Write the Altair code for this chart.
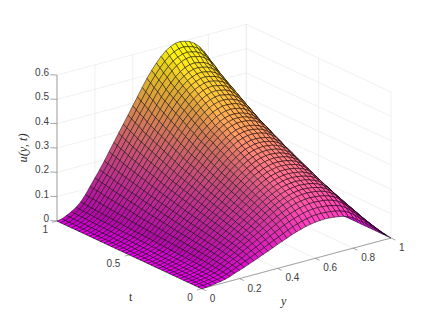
import altair as alt
import numpy as np

# u(y,t) in thousandths: one row per t (0 -> 1), one column per y (0 -> 1)
U = [
[0,1,3,6,9,13,19,27,34,41,49,57,65,73,81,89,98,106,114,122,129,135,141,145,148,150,151,150,148,145,141,134,126,111,98,83,68,51,35,18,0],
[0,1,3,6,10,14,21,29,38,46,54,63,72,81,90,99,108,117,126,135,143,150,156,161,165,167,167,166,164,161,156,149,139,124,108,92,75,57,39,19,0],
[0,1,4,7,11,16,23,32,41,50,59,70,79,89,99,109,119,129,139,149,157,165,171,177,181,183,184,182,181,176,172,164,152,136,119,101,82,63,43,21,0],
[0,1,4,7,12,17,25,35,45,54,64,75,86,97,107,118,129,139,150,161,170,178,185,191,195,198,199,197,196,192,186,177,165,147,129,109,89,68,46,23,0],
[0,1,4,8,12,18,27,37,47,57,68,80,91,103,114,125,137,148,159,170,180,189,197,203,207,210,211,209,207,203,197,188,176,156,137,116,95,72,49,25,0],
[0,1,4,8,13,19,28,39,50,61,72,84,96,108,120,132,144,156,168,180,191,200,208,215,219,222,223,221,219,215,208,198,185,165,144,122,100,76,52,26,0],
[0,1,5,8,13,20,30,41,52,63,75,88,100,113,125,137,150,162,175,187,198,208,216,223,228,231,232,230,228,223,217,207,193,171,150,127,104,79,54,27,0],
[0,1,5,9,14,21,31,42,54,66,78,91,104,117,130,143,156,169,182,195,206,216,225,232,237,240,241,239,237,232,225,215,200,178,156,132,108,82,56,28,0],
[0,1,5,9,15,22,32,44,56,68,81,95,108,122,135,148,162,175,189,202,214,224,233,241,246,249,250,248,246,240,233,223,207,185,162,137,112,85,58,29,0],
[0,1,5,9,15,22,33,46,58,71,84,98,112,126,140,154,168,181,196,209,221,232,242,249,255,258,259,257,254,249,242,231,215,191,168,142,116,88,60,30,0],
[0,1,5,10,16,23,34,47,60,73,87,101,116,130,145,159,174,188,202,217,229,240,250,258,263,267,268,266,263,259,250,239,222,198,174,147,120,91,62,31,0],
[0,1,6,10,16,24,35,49,62,75,90,105,120,135,150,164,179,194,209,224,237,248,259,267,272,276,277,275,272,267,259,248,230,205,179,152,124,94,64,32,0],
[0,1,6,10,17,25,37,50,64,78,93,108,124,139,154,170,185,200,216,231,245,257,267,276,281,285,286,284,281,276,267,255,238,211,185,157,128,97,67,33,0],
[0,1,6,11,17,25,38,52,66,80,96,112,127,144,159,175,191,207,223,239,252,265,275,284,290,294,295,293,290,284,276,263,245,218,191,162,132,100,69,34,0],
[0,2,6,11,18,26,39,54,68,83,98,115,131,148,164,180,197,213,230,246,260,273,284,293,299,303,304,302,299,293,284,271,252,225,197,167,136,104,71,35,0],
[0,2,6,11,18,27,40,55,70,85,101,119,135,152,169,186,203,219,237,253,268,281,292,302,308,312,313,311,308,301,292,279,260,231,203,172,140,107,73,36,0],
[0,2,6,12,19,28,41,57,72,88,104,122,139,157,174,191,209,226,243,261,276,289,301,310,317,321,322,320,317,310,300,287,267,238,209,177,144,110,75,37,0],
[0,2,7,12,19,29,42,58,74,90,107,125,143,161,179,196,215,232,250,268,283,297,309,319,326,330,331,329,326,319,310,296,276,245,215,182,149,113,77,39,0],
[0,2,7,12,20,29,44,60,76,93,110,129,147,166,184,202,220,238,257,275,291,305,318,328,334,339,340,338,335,328,318,304,283,251,220,186,153,116,79,40,0],
[0,2,7,13,20,30,45,61,78,95,113,132,151,170,189,207,226,245,264,282,299,313,326,336,343,348,349,347,343,337,326,312,290,258,226,191,157,119,81,41,0],
[0,2,7,13,21,31,46,64,81,98,117,137,156,176,195,214,234,253,273,292,309,324,337,348,355,360,361,359,355,348,337,322,300,267,234,198,162,123,84,42,0],
[0,2,7,14,22,32,47,65,83,101,120,140,160,180,200,220,240,260,280,300,317,332,346,357,364,369,370,368,364,357,345,330,307,274,240,203,166,126,86,43,0],
[0,2,8,14,22,33,49,67,85,103,123,144,164,185,205,225,246,266,287,307,324,340,354,365,373,378,379,377,373,365,355,339,315,280,246,208,170,129,88,44,0],
[0,2,8,14,23,34,50,69,88,107,127,148,169,190,211,232,254,274,296,317,335,351,365,377,385,390,391,389,385,377,366,349,326,289,254,215,176,133,91,46,0],
[0,2,8,15,23,35,51,70,90,109,130,152,173,195,216,237,259,281,303,324,342,359,374,386,394,399,400,398,393,385,374,357,333,296,259,219,180,136,93,47,0],
[0,2,8,15,24,35,52,72,92,112,133,155,177,199,221,243,265,287,309,331,350,367,382,394,403,408,409,407,402,394,382,365,340,303,265,224,184,139,95,48,0],
[0,2,8,15,25,36,54,74,95,115,137,160,182,205,228,250,273,295,319,341,361,378,393,406,414,420,421,419,415,406,393,376,350,312,273,231,189,144,98,49,0],
[0,2,9,16,25,37,55,76,97,118,140,164,187,211,234,257,281,304,328,351,371,389,405,418,426,432,433,431,427,418,405,387,360,320,281,238,194,148,101,50,0],
[0,2,9,16,26,38,57,78,100,121,144,169,192,217,241,264,289,312,337,360,381,400,416,429,438,444,445,443,438,429,416,398,370,329,289,244,200,152,104,52,0],
[0,2,9,17,27,40,59,81,103,125,148,173,198,223,247,271,296,321,346,370,391,410,427,441,450,456,458,454,450,441,427,408,380,338,296,251,205,156,106,53,0],
[0,2,9,17,27,41,60,83,105,128,152,178,203,229,254,278,304,329,355,380,402,421,438,452,462,468,470,466,462,452,438,419,390,347,304,257,211,160,109,55,0],
[0,2,10,18,28,42,62,85,108,131,156,182,208,234,260,286,312,338,364,390,412,432,450,464,474,480,482,478,474,464,450,430,400,356,312,264,216,164,112,56,0],
[0,2,10,18,29,43,63,87,111,134,160,187,213,240,267,293,320,346,373,399,422,443,461,476,485,492,494,490,485,476,461,441,410,365,320,271,221,168,115,57,0],
[0,3,10,18,29,44,65,89,113,138,164,192,218,246,273,300,328,354,382,409,433,454,472,487,497,504,506,502,497,487,472,451,420,374,328,277,227,172,118,59,0],
[0,3,10,19,30,45,66,91,116,141,168,196,224,252,280,307,335,363,391,419,443,464,483,499,509,516,518,514,509,499,483,462,430,383,335,284,232,176,120,60,0],
[0,3,11,19,31,46,68,93,119,144,172,201,229,258,286,314,343,371,400,429,453,475,495,510,521,528,530,526,521,510,495,473,440,392,343,290,238,180,123,62,0],
[0,3,11,20,32,47,69,95,122,148,176,205,234,264,293,321,351,380,410,438,464,486,506,522,533,540,542,538,533,522,506,484,450,401,351,297,243,185,126,63,0],
[0,3,11,20,33,48,72,99,126,153,181,212,242,272,302,332,363,392,423,453,479,502,523,539,551,558,560,556,551,539,523,499,465,414,363,307,251,191,130,65,0],
[0,3,11,21,33,49,73,101,128,156,185,217,247,278,309,339,371,401,432,463,489,513,534,551,562,570,572,568,563,551,534,510,476,423,371,314,257,195,133,67,0],
[0,3,12,21,34,51,75,103,132,160,190,222,254,286,317,348,380,411,444,475,502,527,548,566,577,585,587,583,577,566,548,524,488,434,380,322,263,200,137,68,0],
[0,3,12,22,35,52,77,106,135,164,195,228,260,293,325,357,390,422,455,487,515,540,562,580,592,600,602,598,592,580,562,537,500,445,390,330,270,205,140,70,0],
]
Z_TICKS = [0, 0.1, 0.2, 0.3, 0.4, 0.5, 0.6]
Z_LABELS = ["0", "0.1", "0.2", "0.3", "0.4", "0.5", "0.6"]
Y_TICKS = [0, 0.2, 0.4, 0.6, 0.8, 1]
Y_LABELS = ["0", "0.2", "0.4", "0.6", "0.8", "1"]
T_TICKS = [0, 0.5, 1]
T_LABELS = ["0", "0.5", "1"]

U = np.array(U) / 1000.0
N = U.shape[0] - 1
YS = np.arange(N + 1) / N
TS = np.arange(N + 1) / N

# orthographic view of the box, in chart pixels (page margin already removed)
ORIGIN = np.array([193.7, 280.7])
VY = np.array([189.3, -50.7])
VT = np.array([-144.7, -67.7])
VZ = np.array([0.0, -243.3])
ZMAX = 0.6


def proj(y, t, z=0.0):
    p = ORIGIN + y * VY + t * VT + z * VZ
    return [round(float(p[0]), 2), round(float(p[1]), 2)]


def line(*pts):
    return {"type": "Feature", "properties": {},
            "geometry": {"type": "LineString", "coordinates": [proj(*p) for p in pts]}}


LIGHT = np.array([0.7, -0.3, 0.65])
LIGHT = LIGHT / np.linalg.norm(LIGHT)
AMB, DIF, GLOW = 0.68, 0.5, 0.25


def facet_colour(i, j):
    u = U[i:i + 2, j:j + 2]
    level = u.mean() / U.max()
    dy = (u[:, 1].mean() - u[:, 0].mean()) * N / ZMAX
    dt = (u[1, :].mean() - u[0, :].mean()) * N / ZMAX
    n = np.array([-dy, -dt, 1.0])
    n = n / np.linalg.norm(n)
    k = min(1.0, AMB + DIF * max(0.0, float(n @ LIGHT)) + GLOW * level)
    rgb = np.array([1.0, level, 1.0 - level]) * k
    return "#%02x%02x%02x" % tuple(int(round(c * 255)) for c in rgb)


# far cells first so that near ones paint over them
quads = []
for i in range(N - 1, -1, -1):
    for j in range(N - 1, -1, -1):
        ring = [proj(YS[a], TS[b], U[b, a]) for a, b in
                ((j, i), (j + 1, i), (j + 1, i + 1), (j, i + 1), (j, i))]
        quads.append({"type": "Feature", "properties": {"c": facet_colour(i, j)},
                      "geometry": {"type": "Polygon", "coordinates": [ring]}})

grid = []
for z in Z_TICKS:
    grid.append(line((0, 1, z), (1, 1, z), (1, 0, z)))
for y in Y_TICKS:
    grid.append(line((y, 0, 0), (y, 1, 0), (y, 1, ZMAX)))
for t in T_TICKS:
    grid.append(line((0, t, 0), (1, t, 0), (1, t, ZMAX)))

axes = [line((0, 1, 0), (0, 1, ZMAX)), line((0, 1, 0), (0, 0, 0)), line((0, 0, 0), (1, 0, 0))]
for z in Z_TICKS:
    axes.append(line((0, 1, z), (-0.02, 1.02, z)))
for y in Y_TICKS:
    axes.append(line((y, 0, 0), (y, -0.03, 0)))
for t in T_TICKS:
    axes.append(line((0, t, 0), (-0.025, t, 0)))

right_labels = []
left_labels = []
for z, s in zip(Z_TICKS, Z_LABELS):
    p = proj(0, 1, z)
    right_labels.append({"lon": p[0] - 8, "lat": p[1] - 2, "s": s})
for y, s in zip(Y_TICKS, Y_LABELS):
    p = proj(y, 0, 0)
    left_labels.append({"lon": p[0] + 8, "lat": p[1] + 10, "s": s})
for t, s in zip(T_TICKS, T_LABELS):
    p = proj(0, t, 0)
    right_labels.append({"lon": p[0] - 9, "lat": p[1] + 9, "s": s})

PROJ = dict(type="identity", scale=1, translate=[0, 0])
GEO = alt.DataFormat(type="json")


def shapes(feats, colour, width):
    return alt.Chart(alt.Data(values=feats, format=GEO)).mark_geoshape(
        filled=False, stroke=colour, strokeWidth=width).project(**PROJ)


surface = alt.Chart(alt.Data(values=quads, format=GEO)).mark_geoshape(
    stroke="#000000", strokeWidth=0.6, strokeOpacity=0.8).encode(
    fill=alt.Fill("properties.c:N", scale=None)).project(**PROJ)


def text_layer(rows, **style):
    return alt.Chart(alt.Data(values=rows)).mark_text(baseline="middle", **style).encode(
        longitude="lon:Q", latitude="lat:Q", text="s:N").project(**PROJ)


SANS = dict(font="Liberation Sans", fontSize=10, color="#404040")
SERIF = dict(font="Liberation Serif", color="#303030", align="center")

chart = alt.layer(
    shapes(grid, "#e6e6e6", 0.6),
    shapes(axes, "#808080", 0.7),
    surface,
    text_layer(right_labels, align="right", **SANS),
    text_layer(left_labels, align="left", **SANS),
    text_layer([{"lon": 122.7, "lat": 288.5, "s": "t"}], fontSize=12, **SERIF),
    text_layer([{"lon": 275.7, "lat": 293.0, "s": "y"}], fontSize=12, fontStyle="italic", **SERIF),
    text_layer([{"lon": 14.5, "lat": 140.0, "s": "u(y, t)"}], fontSize=12.5, fontStyle="italic",
               angle=270, **SERIF),
).properties(width=416, height=308, padding=0, background="white").configure_view(stroke=None)

chart.save("out.html", embed_options={"renderer": "svg", "actions": False})
